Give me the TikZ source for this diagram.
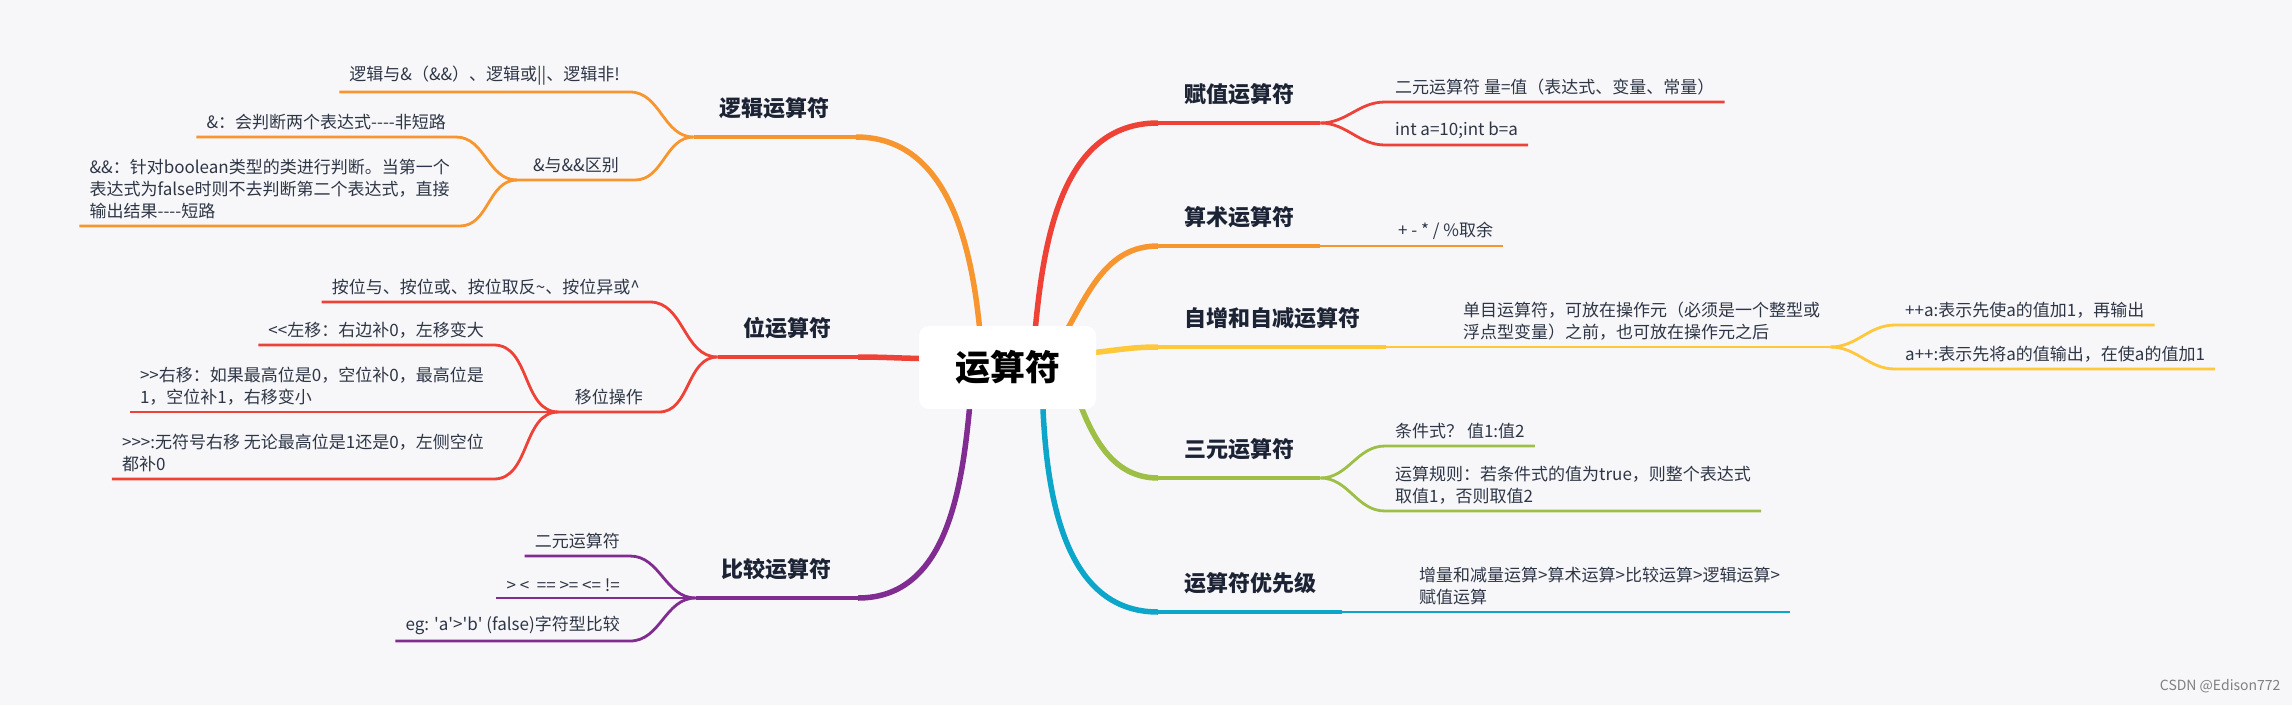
\documentclass[tikz,border=0pt]{standalone}
\usepackage{fontspec}
\setmainfont{Noto Sans CJK SC}
\usetikzlibrary{positioning,backgrounds}

\definecolor{paper}{HTML}{F7F7F9}
\definecolor{ink}{HTML}{2E3646}
\definecolor{inkdark}{HTML}{1B2334}
\definecolor{mmorange}{HTML}{F7962E}
\definecolor{mmred}{HTML}{EF4237}
\definecolor{mmpurple}{HTML}{802C91}
\definecolor{mmyellow}{HTML}{FFC83B}
\definecolor{mmgreen}{HTML}{9DBF46}
\definecolor{mmcyan}{HTML}{0CA6CB}

\begin{document}
\begin{tikzpicture}[x=1pt,y=1pt,
    rootbox/.style={fill=white, rounded corners=10pt, minimum width=177pt, minimum height=83pt,
        font=\bfseries\fontsize{35}{40}\selectfont},
    topic/.style={inner xsep=26pt, inner ysep=15pt, text height=17pt, text depth=5pt,
        text=inkdark, font=\bfseries\fontsize{22}{26}\selectfont},
    leaf/.style={inner xsep=10pt, inner ysep=6.5pt, align=left, text=ink,
        font=\fontsize{17}{22}\selectfont},
    trunk/.style={line width=5.5pt},
    stem/.style={line width=3.6pt},
    twig/.style={line width=2.8pt}]
    \useasboundingbox (0,0) rectangle (2292,-705);

    % centre
    \node[rootbox] (root) at (1007.5,-367.5) {运算符};

    % left: logic operators
    \node[topic, anchor=south east] (logic) at (856,-137) {逻辑运算符};
    \node[leaf, anchor=south east] (lg1) at (630,-92) {逻辑与\&（\&\&）、逻辑或||、逻辑非!};
    \node[leaf, anchor=south east, inner xsep=16pt] (lgdiff) at (635,-180) {\&与\&\&区别};
    \node[leaf, anchor=south east] (lg2) at (456,-137) {\&：会判断两个表达式-{}-{}-{}-非短路};
    \node[leaf, anchor=south east] (lg3) at (460,-226)
        {\&\&：针对boolean类型的类进行判断。当第一个\\表达式为false时则不去判断第二个表达式，直接\\输出结果-{}-{}-{}-短路};

    % left: bit operators
    \node[topic, anchor=south east] (bit) at (858,-357) {位运算符};
    \node[leaf, anchor=south east] (bt1) at (650,-302) {按位与、按位或、按位取反\textasciitilde、按位异或\textasciicircum};
    \node[leaf, anchor=south east, inner xsep=16pt] (btshift) at (659,-412) {移位操作};
    \node[leaf, anchor=south east] (bt2) at (494,-345) {<{}<左移：右边补0，左移变大};
    \node[leaf, anchor=south east] (bt3) at (494,-412) {>{}>右移：如果最高位是0，空位补0，最高位是\\1，空位补1，右移变小};
    \node[leaf, anchor=south east] (bt4) at (494,-479) {>{}>{}>:无符号右移 无论最高位是1还是0，左侧空位\\都补0};

    % left: comparison operators
    \node[topic, anchor=south east] (cmp) at (858,-598) {比较运算符};
    \node[leaf, anchor=south east] (cp1) at (630,-556) {二元运算符};
    \node[leaf, anchor=south east] (cp2) at (630,-598) {> <\ \ == >= <= !=};
    \node[leaf, anchor=south east] (cp3) at (630,-641)
        {eg: \textquotesingle a\textquotesingle>\textquotesingle b\textquotesingle\ (false)字符型比较};

    % right side
    \node[topic, anchor=south west] (assign) at (1158,-123) {赋值运算符};
    \node[leaf, anchor=south west] (as1) at (1385,-102) {二元运算符 量=值（表达式、变量、常量）};
    \node[leaf, anchor=south west] (as2) at (1385,-145) {int a=10;int b=a};

    \node[topic, anchor=south west] (arith) at (1158,-246) {算术运算符};
    \node[leaf, anchor=south west] (ar1) at (1388,-246) {+ - * / \%取余};

    \node[topic, anchor=south west] (incdec) at (1158,-347) {自增和自减运算符};
    \node[leaf, anchor=south west] (in1) at (1453,-347)
        {单目运算符，可放在操作元（必须是一个整型或\\浮点型变量）之前，也可放在操作元之后};
    \node[leaf, anchor=south west] (in2) at (1895,-325) {++a:表示先使a的值加1，再输出};
    \node[leaf, anchor=south west] (in3) at (1895,-369) {a++:表示先将a的值输出，在使a的值加1};

    \node[topic, anchor=south west] (tern) at (1158,-478) {三元运算符};
    \node[leaf, anchor=south west] (te1) at (1385,-446) {条件式？ 值1:值2};
    \node[leaf, anchor=south west] (te2) at (1385,-511) {运算规则：若条件式的值为true，则整个表达式\\取值1，否则取值2};

    \node[topic, anchor=south west] (prec) at (1158,-612) {运算符优先级};
    \node[leaf, anchor=south west] (pr1) at (1409,-612) {增量和减量运算>算术运算>比较运算>逻辑运算>\\赋值运算};

    \node[text=gray, font=\fontsize{14}{16}\selectfont, anchor=east] (mark) at (2284,-686) {CSDN @Edison772};

    \begin{scope}[on background layer]
        \fill[paper] (0,0) rectangle (2292,-705);

        % branches from the centre
        \draw[trunk, mmorange] ([xshift=-27pt,yshift=-12pt]root.north) to[out=95,in=0] (logic.south east);
        \draw[trunk, mmred] ([xshift=12pt,yshift=9pt]root.west) to[out=180,in=0] (bit.south east);
        \draw[trunk, mmpurple] ([xshift=-37pt,yshift=12pt]root.south) to[out=-95,in=0] (cmp.south east);
        \draw[trunk, mmred] ([xshift=27pt,yshift=-12pt]root.north) to[out=85,in=180] (assign.south west);
        \draw[trunk, mmorange] ([xshift=55pt,yshift=-12pt]root.north) to[out=60,in=180] (arith.south west);
        \draw[trunk, mmyellow] ([xshift=-12pt,yshift=14pt]root.east) to[out=5,in=180] (incdec.south west);
        \draw[trunk, mmgreen] ([xshift=70pt,yshift=12pt]root.south) to[out=-70,in=180] (tern.south west);
        \draw[trunk, mmcyan] ([xshift=35pt,yshift=12pt]root.south) to[out=-88,in=180] (prec.south west);

        % topic underlines
        \foreach \t/\c in {logic/mmorange, bit/mmred, cmp/mmpurple, assign/mmred,
                           arith/mmorange, incdec/mmyellow, tern/mmgreen, prec/mmcyan}
            \draw[stem, \c] (\t.south west) -- (\t.south east);

        % left children
        \foreach \a/\b/\c in {logic/lg1/mmorange, logic/lgdiff/mmorange, lgdiff/lg2/mmorange, lgdiff/lg3/mmorange,
                              bit/bt1/mmred, bit/btshift/mmred, btshift/bt2/mmred, btshift/bt3/mmred, btshift/bt4/mmred,
                              cmp/cp1/mmpurple, cmp/cp2/mmpurple, cmp/cp3/mmpurple}
            \draw[twig, \c] (\a.south west) to[out=180,in=0] (\b.south east) -- (\b.south west);

        % right children
        \foreach \a/\b/\c in {assign/as1/mmred, assign/as2/mmred, arith/ar1/mmorange,
                              incdec/in1/mmyellow, in1/in2/mmyellow, in1/in3/mmyellow,
                              tern/te1/mmgreen, tern/te2/mmgreen, prec/pr1/mmcyan}
            \draw[twig, \c] (\a.south east) to[out=0,in=180] (\b.south west) -- (\b.south east);
    \end{scope}
\end{tikzpicture}
\end{document}
